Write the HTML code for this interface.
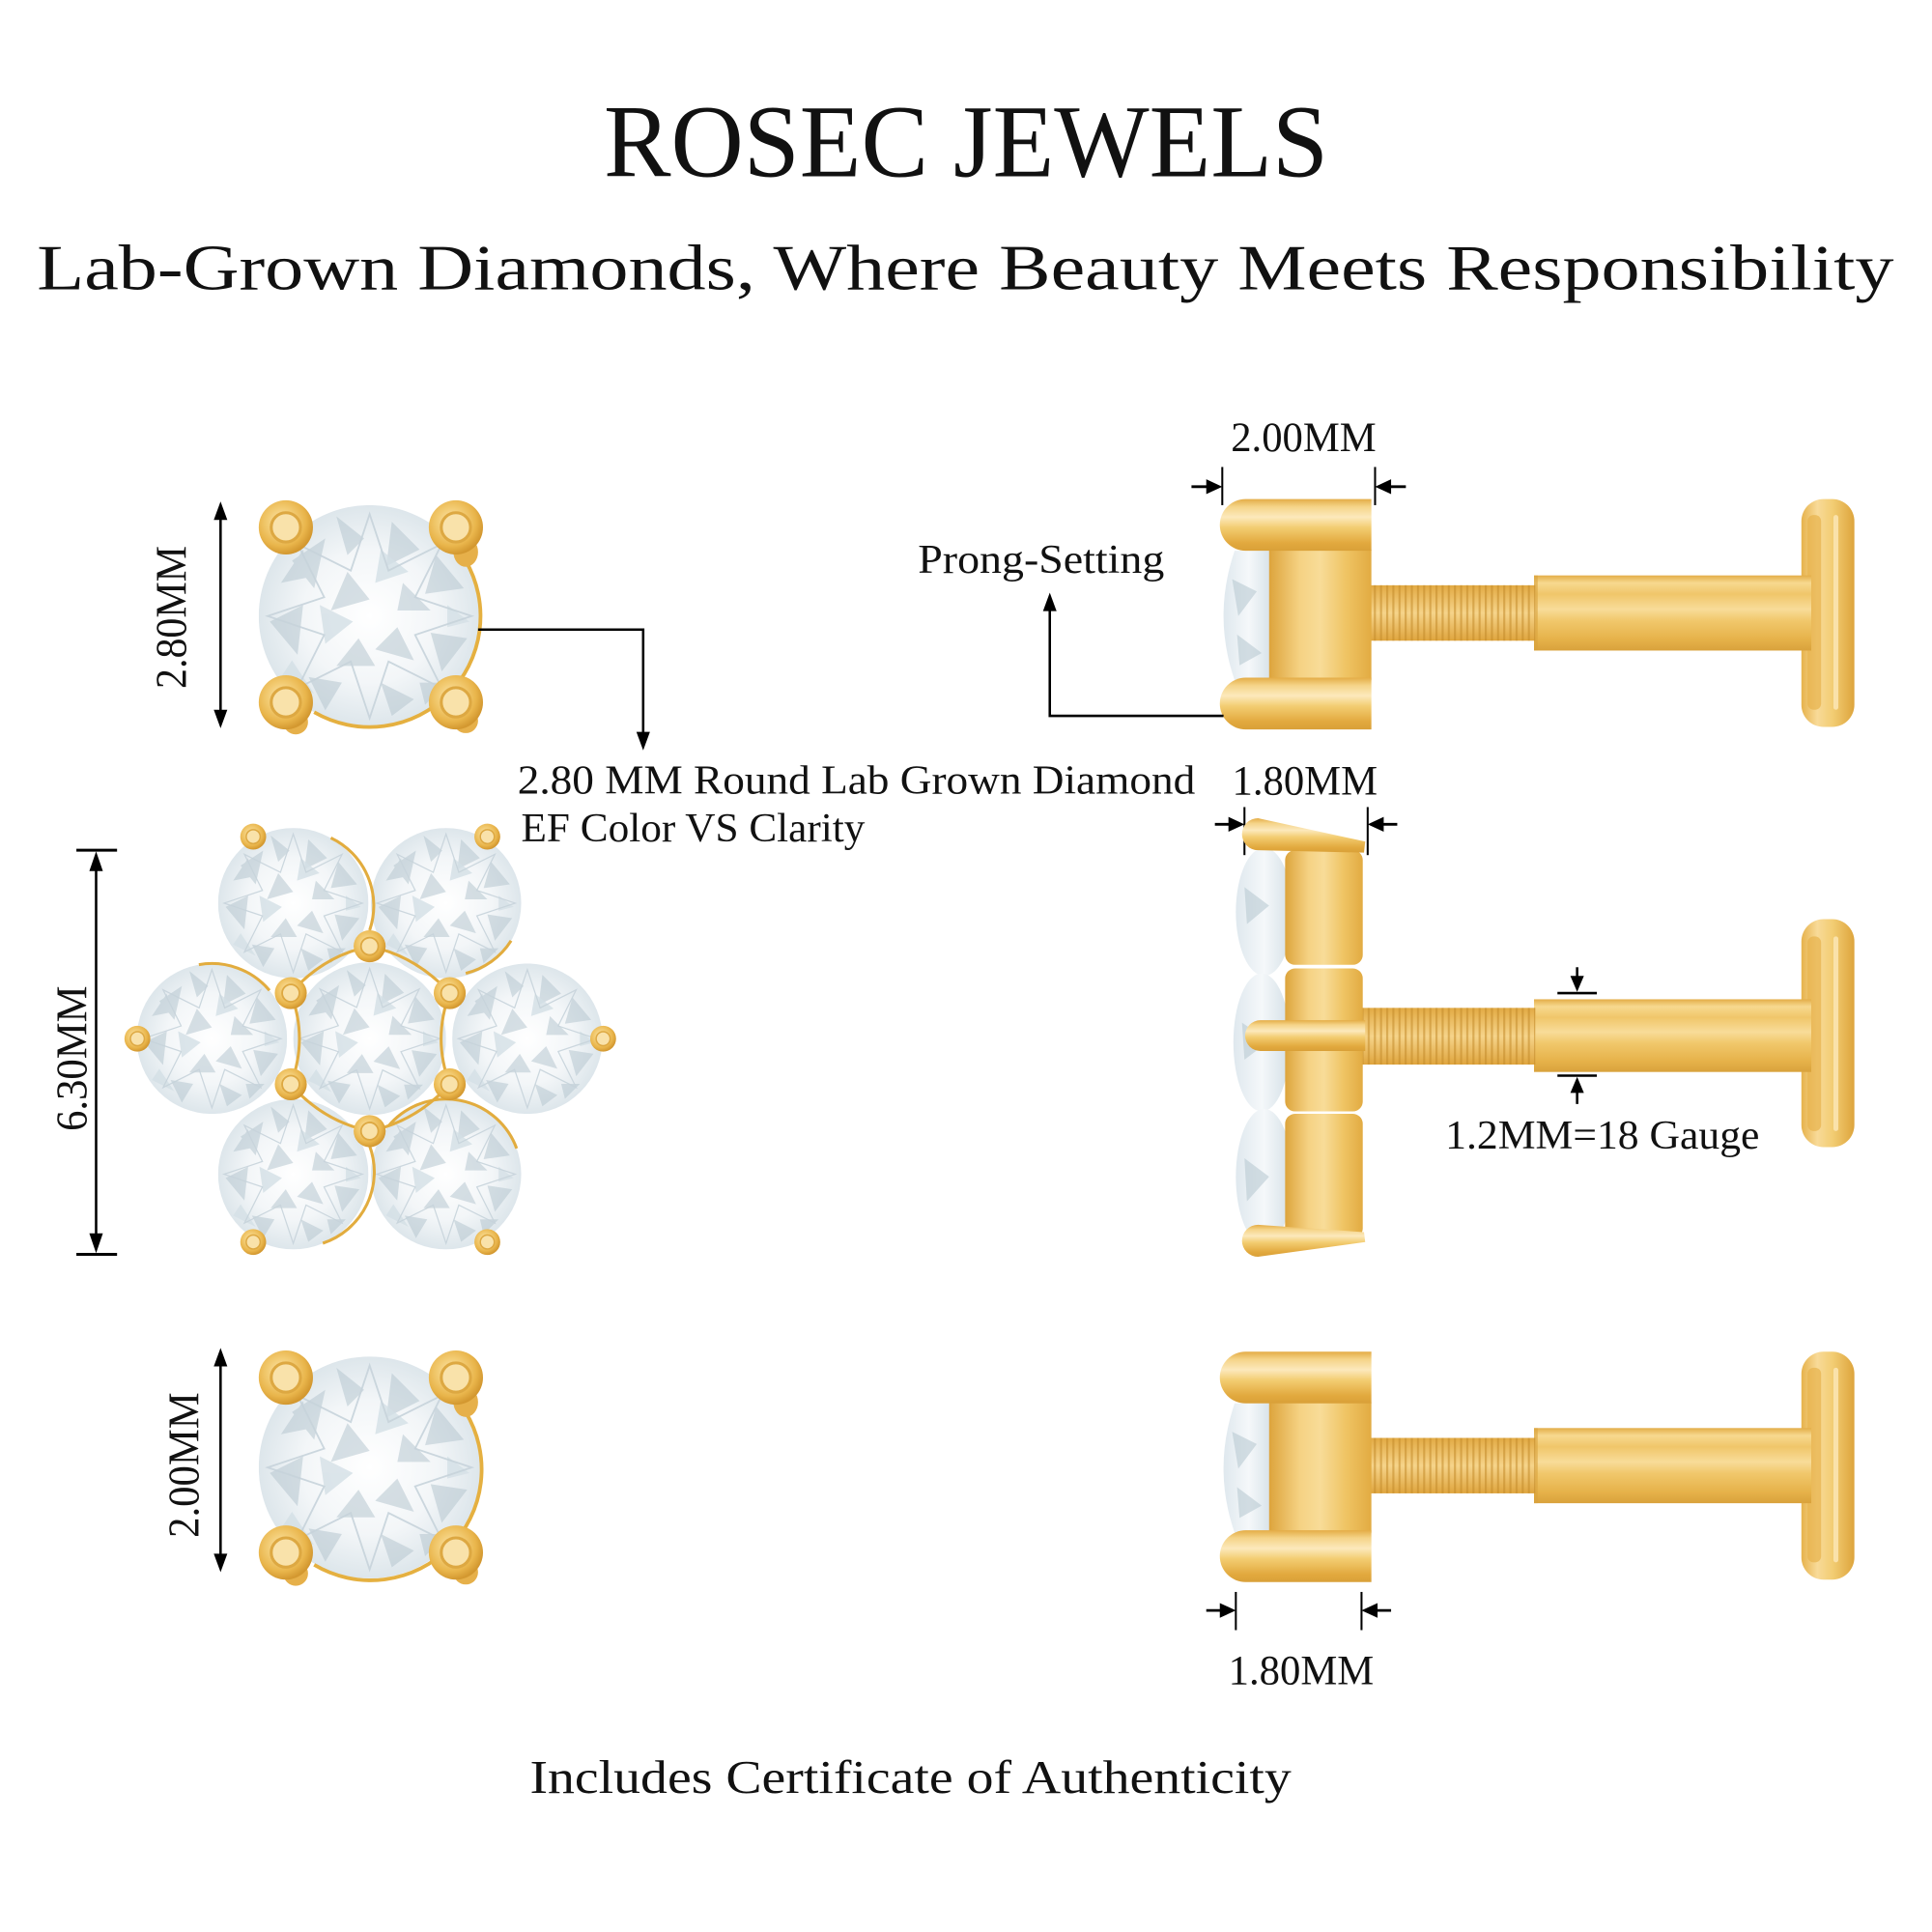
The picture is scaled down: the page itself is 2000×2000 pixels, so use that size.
<!DOCTYPE html>
<html>
<head>
<meta charset="utf-8">
<style>
html,body{margin:0;padding:0;background:#fff;}
svg{display:block;}
text{font-family:"Liberation Serif","Noto Serif CJK SC",serif;fill:#111;}
</style>
</head>
<body>
<svg xmlns="http://www.w3.org/2000/svg" xmlns:xlink="http://www.w3.org/1999/xlink" width="2000" height="2000" viewBox="0 0 1568 1568">
<defs>
  <radialGradient id="diaG" cx="0.5" cy="0.5" r="0.5">
    <stop offset="0" stop-color="#ffffff"/>
    <stop offset="0.6" stop-color="#f3f6f8"/>
    <stop offset="1" stop-color="#dde6eb"/>
  </radialGradient>
  <radialGradient id="beadG" cx="0.42" cy="0.4" r="0.6">
    <stop offset="0" stop-color="#FCE7B4"/>
    <stop offset="0.4" stop-color="#F3CD76"/>
    <stop offset="0.75" stop-color="#E9B54B"/>
    <stop offset="1" stop-color="#D39830"/>
  </radialGradient>
  <linearGradient id="prongG" x1="0" y1="0" x2="0" y2="1">
    <stop offset="0" stop-color="#E4AC46"/>
    <stop offset="0.15" stop-color="#F5D488"/>
    <stop offset="0.35" stop-color="#FCE9BC"/>
    <stop offset="0.55" stop-color="#F3CD72"/>
    <stop offset="0.85" stop-color="#E2A93E"/>
    <stop offset="1" stop-color="#D9A038"/>
  </linearGradient>
  <linearGradient id="collarG" x1="0" y1="0" x2="1" y2="0">
    <stop offset="0" stop-color="#DDA43C"/>
    <stop offset="0.3" stop-color="#F5D283"/>
    <stop offset="0.5" stop-color="#F8DC98"/>
    <stop offset="0.75" stop-color="#EFC464"/>
    <stop offset="1" stop-color="#E2AB42"/>
  </linearGradient>
  <linearGradient id="shaftG" x1="0" y1="0" x2="0" y2="1">
    <stop offset="0" stop-color="#E3AD48"/>
    <stop offset="0.1" stop-color="#F7D98F"/>
    <stop offset="0.25" stop-color="#F0C66A"/>
    <stop offset="0.45" stop-color="#F8DC99"/>
    <stop offset="0.6" stop-color="#F1C86C"/>
    <stop offset="0.85" stop-color="#E6B24A"/>
    <stop offset="1" stop-color="#D9A23C"/>
  </linearGradient>
  <linearGradient id="threadG" x1="0" y1="0" x2="0" y2="1">
    <stop offset="0" stop-color="#E2AA44"/>
    <stop offset="0.5" stop-color="#F6D48A"/>
    <stop offset="1" stop-color="#DFA53E"/>
  </linearGradient>
  <pattern id="thrP" width="5" height="10" patternUnits="userSpaceOnUse">
    <rect x="0" y="0" width="1.7" height="10" fill="#C38A2A" opacity="0.55"/>
  </pattern>
  <linearGradient id="discG" x1="0" y1="0" x2="1" y2="0">
    <stop offset="0" stop-color="#E6B24C"/>
    <stop offset="0.3" stop-color="#F8DA98"/>
    <stop offset="0.6" stop-color="#F2CC72"/>
    <stop offset="1" stop-color="#DDA43C"/>
  </linearGradient>
  <linearGradient id="sliverG" x1="0" y1="0" x2="1" y2="0">
    <stop offset="0" stop-color="#dfe8ee"/>
    <stop offset="0.5" stop-color="#f5f8fa"/>
    <stop offset="1" stop-color="#d3dfe6"/>
  </linearGradient>

  <symbol id="dia" viewBox="-100 -100 200 200">
    <circle r="100" fill="url(#diaG)"/>
    <g fill="#b7c7d0" opacity="0.55">
      <polygon points="-70,-50 -40,-70 -50,-25"/>
      <polygon points="20,-85 45,-60 15,-45"/>
      <polygon points="60,-55 85,-25 50,-20"/>
      <polygon points="-90,5 -60,-10 -65,35"/>
      <polygon points="55,15 88,20 65,50"/>
      <polygon points="-55,55 -25,60 -40,85"/>
      <polygon points="10,60 40,75 20,90"/>
      <polygon points="-20,-40 0,-15 -35,-5"/>
      <polygon points="25,10 40,40 5,30"/>
      <polygon points="-10,20 -30,45 5,45"/>
      <polygon points="30,-30 55,-5 25,-5"/>
      <polygon points="-80,-30 -60,-60 -55,-35"/>
      <polygon points="-30,-90 -5,-70 -20,-55"/>
      <polygon points="70,60 50,80 45,60"/>
    </g>
    <g fill="#d4e0e6" opacity="0.8">
      <polygon points="-45,-10 -15,5 -40,25"/>
      <polygon points="10,-60 35,-40 5,-30"/>
      <polygon points="-70,40 -50,70 -80,55"/>
      <polygon points="70,-10 90,5 70,10"/>
    </g>
    <g stroke="#c6d3da" stroke-width="1.6" fill="none" opacity="0.9">
      <polygon points="0,-92 17,-41 65,-65 41,-17 92,0 41,17 65,65 17,41 0,92 -17,41 -65,65 -41,17 -92,0 -41,-17 -65,-65 -17,-41"/>
    </g>
  </symbol>

  <symbol id="bead" viewBox="-10 -10 20 20" overflow="visible">
    <circle r="10" fill="url(#beadG)"/>
    <circle r="5.4" fill="#F9E2AA" stroke="#DDA842" stroke-width="1.1"/>
  </symbol>

  <g id="sideStud">
    <!-- disc -->
    <rect x="1462" y="405" width="43" height="185" rx="18" fill="url(#discG)"/>
    <rect x="1467" y="418" width="11" height="158" rx="5" fill="#E7B24B" opacity="0.7"/>
    <rect x="1488" y="418" width="4" height="158" rx="2" fill="#FCE8BA" opacity="0.8"/>
    <!-- shaft -->
    <rect x="1245" y="467" width="225" height="61" fill="url(#shaftG)"/>
    <rect x="1245" y="467" width="3" height="61" fill="#D9A23C" opacity="0.6"/>
    <!-- thread -->
    <rect x="1112" y="475" width="134" height="45" fill="url(#threadG)"/>
    <rect x="1112" y="475" width="134" height="45" fill="url(#thrP)"/>
    <!-- diamond sliver -->
    <path d="M1002 447 Q984 500 1002 552 L1034 552 L1034 447 Z" fill="url(#sliverG)"/>
    <path d="M1000 470 L1020 480 L1005 500 Z M1004 515 L1024 530 L1006 540 Z" fill="#b9c9d2" opacity="0.6"/>
    <!-- collar -->
    <rect x="1030" y="446" width="83" height="106" fill="url(#collarG)"/>
    <!-- prongs -->
    <path d="M1011 405 H1113 V447 H1011 A21 21 0 0 1 1011 405 Z" fill="url(#prongG)"/>
    <path d="M1011 550 H1113 V592 H1011 A21 21 0 0 1 1011 550 Z" fill="url(#prongG)"/>
  </g>
</defs>

<rect width="1568" height="1568" fill="#ffffff"/>

<!-- Titles -->
<text x="490" y="143" font-size="84" textLength="588" lengthAdjust="spacingAndGlyphs">ROSEC JEWELS</text>
<text x="30" y="235" font-size="52" textLength="1507" lengthAdjust="spacingAndGlyphs">Lab-Grown Diamonds, Where Beauty Meets Responsibility</text>

<!-- ========== TOP LEFT STUD ========== -->
<use xlink:href="#dia" x="210" y="410" width="180" height="180"/>
<path d="M377.9 455 A90 90 0 0 1 255 578" fill="none" stroke="#E5B040" stroke-width="3"/>
<g>
  <ellipse cx="378" cy="448" rx="10" ry="12" fill="#E6B04A"/>
  <ellipse cx="378" cy="585" rx="10" ry="10" fill="#E6B04A"/>
  <ellipse cx="240" cy="586" rx="10" ry="10" fill="#E6B04A"/>
  <use xlink:href="#bead" x="210" y="404" width="44" height="48" preserveAspectRatio="none"/>
  <use xlink:href="#bead" x="348" y="404" width="44" height="48" preserveAspectRatio="none"/>
  <use xlink:href="#bead" x="210" y="546" width="44" height="48" preserveAspectRatio="none"/>
  <use xlink:href="#bead" x="348" y="546" width="44" height="48" preserveAspectRatio="none"/>
</g>
<!-- 2.80MM dim -->
<line x1="179" y1="418" x2="179" y2="580" stroke="#000" stroke-width="2"/>
<polygon points="179,407 173.5,422 184.5,422" fill="#000"/>
<polygon points="179,591 173.5,576 184.5,576" fill="#000"/>
<text transform="translate(151,501) rotate(-90)" font-size="36" text-anchor="middle" textLength="116" lengthAdjust="spacingAndGlyphs">2.80MM</text>
<!-- leader -->
<polyline points="388,511 522,511 522,598" fill="none" stroke="#000" stroke-width="2"/>
<polygon points="522,609 516.5,594 527.5,594" fill="#000"/>
<text x="420" y="644" font-size="33" textLength="550" lengthAdjust="spacingAndGlyphs">2.80 MM Round Lab Grown Diamond</text>
<text x="423" y="683" font-size="33" textLength="279" lengthAdjust="spacingAndGlyphs">EF Color VS Clarity</text>

<!-- ========== TOP RIGHT SIDE VIEW ========== -->
<text x="1058" y="366" font-size="34" text-anchor="middle" textLength="118" lengthAdjust="spacingAndGlyphs">2.00MM</text>
<line x1="992" y1="379" x2="992" y2="410" stroke="#000" stroke-width="1.6"/>
<line x1="1116" y1="379" x2="1116" y2="410" stroke="#000" stroke-width="1.6"/>
<line x1="967" y1="395" x2="982" y2="395" stroke="#000" stroke-width="2.2"/>
<polygon points="992,395 979,389 979,401" fill="#000"/>
<line x1="1141" y1="395" x2="1126" y2="395" stroke="#000" stroke-width="2.2"/>
<polygon points="1116,395 1129,389 1129,401" fill="#000"/>
<use xlink:href="#sideStud"/>
<!-- prong setting -->
<text x="745" y="465" font-size="33" textLength="200" lengthAdjust="spacingAndGlyphs">Prong-Setting</text>
<polyline points="993,581 852,581 852,493" fill="none" stroke="#000" stroke-width="2"/>
<polygon points="852,481 846.5,496 857.5,496" fill="#000"/>

<!-- ========== FLOWER FRONT ========== -->
<use xlink:href="#dia" x="238" y="781" width="124" height="124"/>
<use xlink:href="#dia" x="111" y="782" width="122" height="122"/>
<use xlink:href="#dia" x="367" y="782" width="122" height="122"/>
<use xlink:href="#dia" x="177" y="672" width="122" height="122"/>
<use xlink:href="#dia" x="301" y="672" width="122" height="122"/>
<use xlink:href="#dia" x="177" y="892" width="122" height="122"/>
<use xlink:href="#dia" x="301" y="892" width="122" height="122"/>
<g fill="none" stroke="#E2AC3E" stroke-width="2.4">
  <path d="M300 768 Q262 776 236 806"/>
  <path d="M300 768 Q338 776 365 806"/>
  <path d="M236 806 Q250 843 236 880"/>
  <path d="M365 806 Q351 843 365 880"/>
  <path d="M236 880 Q262 910 300 918"/>
  <path d="M365 880 Q338 910 300 918"/>
  <path d="M268.5 680 A61 61 0 0 1 300 755"/>
  <path d="M218.7 803.8 A61 61 0 0 0 161.4 782.9"/>
  <path d="M300 930 A61 61 0 0 1 262 1009"/>
  <path d="M315.3 913.8 A61 61 0 0 1 419.3 932.1"/>
  <path d="M414.8 763.5 A61 61 0 0 1 378 790"/>
</g>
<g>
  <use xlink:href="#bead" x="287" y="754" width="26" height="28" preserveAspectRatio="none"/>
  <use xlink:href="#bead" x="223" y="792" width="26" height="28" preserveAspectRatio="none"/>
  <use xlink:href="#bead" x="352" y="792" width="26" height="28" preserveAspectRatio="none"/>
  <use xlink:href="#bead" x="223" y="866" width="26" height="28" preserveAspectRatio="none"/>
  <use xlink:href="#bead" x="352" y="866" width="26" height="28" preserveAspectRatio="none"/>
  <use xlink:href="#bead" x="287" y="904" width="26" height="28" preserveAspectRatio="none"/>
  <use xlink:href="#bead" x="195" y="668" width="21" height="22" preserveAspectRatio="none"/>
  <use xlink:href="#bead" x="385" y="668" width="21" height="22" preserveAspectRatio="none"/>
  <use xlink:href="#bead" x="101" y="832" width="21" height="22" preserveAspectRatio="none"/>
  <use xlink:href="#bead" x="479" y="832" width="21" height="22" preserveAspectRatio="none"/>
  <use xlink:href="#bead" x="195" y="997" width="21" height="22" preserveAspectRatio="none"/>
  <use xlink:href="#bead" x="385" y="997" width="21" height="22" preserveAspectRatio="none"/>
</g>
<!-- 6.30MM dim -->
<line x1="62" y1="690" x2="95" y2="690" stroke="#000" stroke-width="2.4"/>
<line x1="62" y1="1018" x2="95" y2="1018" stroke="#000" stroke-width="2.4"/>
<line x1="78" y1="702" x2="78" y2="1006" stroke="#000" stroke-width="2"/>
<polygon points="78,691 72.5,707 83.5,707" fill="#000"/>
<polygon points="78,1017 72.5,1001 83.5,1001" fill="#000"/>
<text transform="translate(70,859) rotate(-90)" font-size="36" text-anchor="middle" textLength="118" lengthAdjust="spacingAndGlyphs">6.30MM</text>

<!-- ========== FLOWER SIDE VIEW ========== -->
<text x="1059" y="645" font-size="34" text-anchor="middle" textLength="118" lengthAdjust="spacingAndGlyphs">1.80MM</text>
<line x1="1010" y1="655" x2="1010" y2="694" stroke="#000" stroke-width="1.6"/>
<line x1="1110" y1="655" x2="1110" y2="694" stroke="#000" stroke-width="1.6"/>
<line x1="986" y1="669" x2="1000" y2="669" stroke="#000" stroke-width="2.2"/>
<polygon points="1010,669 997,663 997,675" fill="#000"/>
<line x1="1134" y1="669" x2="1120" y2="669" stroke="#000" stroke-width="2.2"/>
<polygon points="1110,669 1123,663 1123,675" fill="#000"/>
<!-- disc -->
<rect x="1462" y="746" width="43" height="185" rx="18" fill="url(#discG)"/>
<rect x="1467" y="760" width="11" height="158" rx="5" fill="#E7B24B" opacity="0.7"/>
<rect x="1488" y="760" width="4" height="158" rx="2" fill="#FCE8BA" opacity="0.8"/>
<!-- shaft -->
<rect x="1245" y="811" width="225" height="59" fill="url(#shaftG)"/>
<!-- thread -->
<rect x="1104" y="818" width="142" height="46" fill="url(#threadG)"/>
<rect x="1104" y="818" width="142" height="46" fill="url(#thrP)"/>
<!-- diamonds sliver -->
<ellipse cx="1026" cy="740" rx="23" ry="52" fill="url(#sliverG)"/>
<ellipse cx="1024" cy="846" rx="23" ry="56" fill="url(#sliverG)"/>
<ellipse cx="1026" cy="955" rx="23" ry="55" fill="url(#sliverG)"/>
<path d="M1010 720 L1030 735 L1012 750 Z M1008 830 L1030 845 L1010 860 Z M1010 940 L1030 955 L1012 975 Z" fill="#b9c9d2" opacity="0.6"/>
<!-- gold blocks -->
<rect x="1043" y="690" width="63" height="93" rx="8" fill="url(#collarG)"/>
<rect x="1043" y="786" width="63" height="116" rx="8" fill="url(#collarG)"/>
<rect x="1043" y="904" width="63" height="101" rx="8" fill="url(#collarG)"/>
<!-- prongs -->
<path d="M1021 664 L1108 683 L1107 692 L1021 690 A13 13 0 0 1 1021 664 Z" fill="url(#prongG)"/>
<path d="M1023 828 H1108 V853 H1023 A12.5 12.5 0 0 1 1023 828 Z" fill="url(#prongG)"/>
<path d="M1021 994 L1107 1000 L1108 1008 L1021 1020 A13 13 0 0 1 1021 994 Z" fill="url(#prongG)"/>
<!-- gauge -->
<line x1="1264" y1="806" x2="1296" y2="806" stroke="#000" stroke-width="2"/>
<line x1="1264" y1="873" x2="1296" y2="873" stroke="#000" stroke-width="2"/>
<line x1="1280" y1="785" x2="1280" y2="797" stroke="#000" stroke-width="2"/>
<polygon points="1280,805 1274.5,792 1285.5,792" fill="#000"/>
<line x1="1280" y1="882" x2="1280" y2="896" stroke="#000" stroke-width="2"/>
<polygon points="1280,874 1274.5,887 1285.5,887" fill="#000"/>
<text x="1173" y="932" font-size="33" textLength="255" lengthAdjust="spacingAndGlyphs">1.2MM=18 Gauge</text>

<!-- ========== BOTTOM LEFT STUD ========== -->
<use xlink:href="#dia" x="210" y="1100" width="180" height="182"/>
<path d="M377.9 1146 A90 90 0 0 1 255 1270" fill="none" stroke="#E5B040" stroke-width="3"/>
<g>
  <ellipse cx="378" cy="1138" rx="10" ry="12" fill="#E6B04A"/>
  <ellipse cx="378" cy="1276" rx="10" ry="10" fill="#E6B04A"/>
  <ellipse cx="240" cy="1277" rx="10" ry="10" fill="#E6B04A"/>
  <use xlink:href="#bead" x="210" y="1094" width="44" height="48" preserveAspectRatio="none"/>
  <use xlink:href="#bead" x="348" y="1094" width="44" height="48" preserveAspectRatio="none"/>
  <use xlink:href="#bead" x="210" y="1236" width="44" height="48" preserveAspectRatio="none"/>
  <use xlink:href="#bead" x="348" y="1236" width="44" height="48" preserveAspectRatio="none"/>
</g>
<line x1="179" y1="1105" x2="179" y2="1265" stroke="#000" stroke-width="2"/>
<polygon points="179,1094 173.5,1109 184.5,1109" fill="#000"/>
<polygon points="179,1276 173.5,1261 184.5,1261" fill="#000"/>
<text transform="translate(161,1189) rotate(-90)" font-size="36" text-anchor="middle" textLength="118" lengthAdjust="spacingAndGlyphs">2.00MM</text>

<!-- ========== BOTTOM RIGHT SIDE VIEW ========== -->
<use xlink:href="#sideStud" transform="translate(0,692)"/>
<line x1="1003" y1="1292" x2="1003" y2="1323" stroke="#000" stroke-width="1.6"/>
<line x1="1105" y1="1292" x2="1105" y2="1323" stroke="#000" stroke-width="1.6"/>
<line x1="979" y1="1307" x2="993" y2="1307" stroke="#000" stroke-width="2.2"/>
<polygon points="1003,1307 990,1301 990,1313" fill="#000"/>
<line x1="1129" y1="1307" x2="1115" y2="1307" stroke="#000" stroke-width="2.2"/>
<polygon points="1105,1307 1118,1301 1118,1313" fill="#000"/>
<text x="1056" y="1367" font-size="34" text-anchor="middle" textLength="118" lengthAdjust="spacingAndGlyphs">1.80MM</text>

<!-- footer -->
<text x="430" y="1455" font-size="38" textLength="618" lengthAdjust="spacingAndGlyphs">Includes Certificate of Authenticity</text>
</svg>
</body>
</html>
